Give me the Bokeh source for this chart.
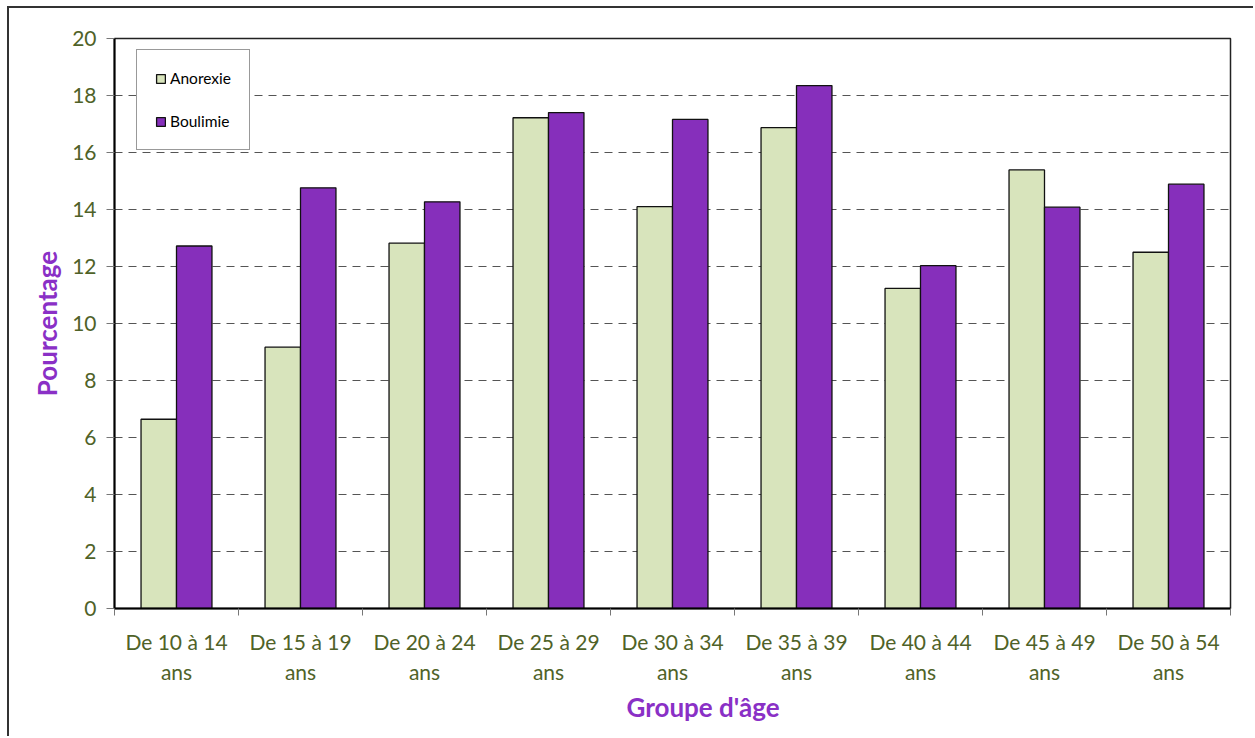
from bokeh.plotting import figure
from bokeh.models import Range1d, FixedTicker, Legend, LegendItem, ColumnDataSource, Title
from bokeh.transform import dodge
from bokeh.embed import file_html
from bokeh.resources import INLINE

# Age groups and prevalence (%) per disorder
groups = ["De 10 à 14\nans", "De 15 à 19\nans", "De 20 à 24\nans",
          "De 25 à 29\nans", "De 30 à 34\nans", "De 35 à 39\nans",
          "De 40 à 44\nans", "De 45 à 49\nans", "De 50 à 54\nans"]
anorexie = [6.64, 9.17, 12.82, 17.22, 14.10, 16.87, 11.23, 15.39, 12.50]
boulimie = [12.72, 14.76, 14.27, 17.40, 17.16, 18.35, 12.03, 14.08, 14.89]
y_ticks = [0, 2, 4, 6, 8, 10, 12, 14, 16, 18, 20]

FONT = "Lato"
GREEN_TXT = "#4F6228"
PURPLE_TXT = "#8A30C6"
ANO_FILL = "#D8E4BC"
BOU_FILL = "#862FBB"

centers = [i + 0.5 for i in range(len(groups))]
src = ColumnDataSource(dict(x=centers, ano=anorexie, bou=boulimie))

p = figure(width=1246, height=730,
           x_range=Range1d(0, len(groups)), y_range=Range1d(0, 20),
           output_backend="svg", toolbar_location=None,
           min_border_left=105, min_border_right=25,
           min_border_top=30, min_border_bottom=130)
p.styles = {"border-left": "2px solid #333", "border-top": "2px solid #333",
            "margin-left": "7px", "margin-top": "6px"}

bw = 0.286
r_ano = p.vbar(x=dodge("x", -bw / 2), top="ano", width=bw, source=src,
               fill_color=ANO_FILL, line_color="#111", line_width=1.3)
r_bou = p.vbar(x=dodge("x", bw / 2), top="bou", width=bw, source=src,
               fill_color=BOU_FILL, line_color="#111", line_width=1.3)

# plot frame
p.outline_line_color = "#222"
p.outline_line_width = 1.5
p.background_fill_color = "white"
p.border_fill_color = "white"

# grid
p.xgrid.visible = False
p.ygrid.ticker = FixedTicker(ticks=y_ticks)
p.ygrid.grid_line_color = "#555"
p.ygrid.grid_line_dash = "8 6"
p.ygrid.grid_line_width = 1

# y axis
ya = p.yaxis[0]
ya.ticker = FixedTicker(ticks=y_ticks, minor_ticks=[])
ya.axis_line_color = "black"
ya.axis_line_width = 2
ya.major_tick_out = 8
ya.major_tick_in = 0
ya.major_tick_line_color = "#777"
ya.minor_tick_out = 0
ya.minor_tick_in = 0
ya.major_label_standoff = 10
ya.major_label_text_font = FONT
ya.major_label_text_font_size = "21px"
ya.major_label_text_color = GREEN_TXT
ya.axis_label = "Pourcentage"
ya.axis_label_text_font = FONT
ya.axis_label_text_font_style = "bold"
ya.axis_label_text_font_size = "26px"
ya.axis_label_text_color = PURPLE_TXT
ya.axis_label_standoff = 6

# x axis: labels at group centres, tick marks at group boundaries
xa = p.xaxis[0]
xa.ticker = FixedTicker(ticks=centers, minor_ticks=list(range(len(groups) + 1)))
xa.major_label_overrides = {c: g for c, g in zip(centers, groups)}
xa.axis_line_color = "black"
xa.axis_line_width = 2
xa.major_tick_out = 0
xa.major_tick_in = 0
xa.minor_tick_out = 7
xa.minor_tick_in = 0
xa.minor_tick_line_color = "#777"
xa.major_label_standoff = 13
xa.major_label_text_font = FONT
xa.major_label_text_font_size = "21px"
xa.major_label_text_color = GREEN_TXT
xa.major_label_text_line_height = 1.2

# x axis title, under the group labels
p.add_layout(Title(text="Groupe d'âge", align="left", offset=512,
                   text_font=FONT, text_font_style="bold",
                   text_font_size="26px", text_color=PURPLE_TXT,
                   standoff=4), "below")

legend = Legend(items=[LegendItem(label="Anorexie", renderers=[r_ano]),
                       LegendItem(label="Boulimie", renderers=[r_bou])],
                location=(22, 458), orientation="vertical")
legend.border_line_color = "#333"
legend.border_line_width = 1
legend.background_fill_color = "white"
legend.background_fill_alpha = 1
legend.label_text_font = FONT
legend.label_text_font_size = "15.5px"
legend.label_text_color = "black"
legend.glyph_width = 11
legend.glyph_height = 11
legend.label_height = 20
legend.label_standoff = 4
legend.spacing = 23
legend.padding = 18
legend.margin = 0
p.add_layout(legend)

open("out.html", "w").write(file_html(p, INLINE))
